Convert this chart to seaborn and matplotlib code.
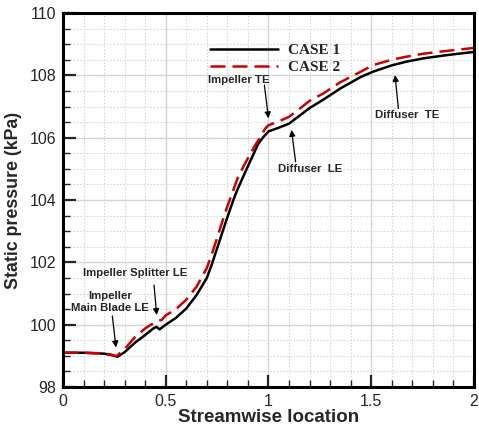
import matplotlib
matplotlib.use("Agg")
import matplotlib.pyplot as plt
from matplotlib.ticker import MultipleLocator, FixedLocator
import pandas as pd
import seaborn as sns

# Static pressure along the streamwise coordinate
x_case1 = [0.0, 0.10, 0.20, 0.24, 0.265, 0.30, 0.35, 0.40, 0.44, 0.455, 0.47, 0.50,
           0.55, 0.60, 0.65, 0.70, 0.725, 0.75, 0.775, 0.80, 0.829, 0.85, 0.894, 0.929,
           0.95, 0.975, 1.0, 1.05, 1.10, 1.15, 1.20, 1.267, 1.35, 1.45, 1.51, 1.60,
           1.672, 1.75, 1.835, 1.92, 2.0]
p_case1 = [99.10, 99.10, 99.07, 99.02, 98.97, 99.12, 99.42, 99.67, 99.88, 99.93, 99.85, 100.00,
           100.22, 100.52, 100.95, 101.50, 101.95, 102.45, 102.95, 103.45, 104.00, 104.35, 105.00, 105.50,
           105.80, 106.02, 106.20, 106.32, 106.45, 106.70, 106.95, 107.22, 107.58, 107.95, 108.12, 108.32,
           108.44, 108.54, 108.62, 108.69, 108.75]

x_case2 = [0.0, 0.10, 0.20, 0.24, 0.26, 0.30, 0.35, 0.40, 0.44, 0.46, 0.48, 0.50,
           0.55, 0.60, 0.65, 0.70, 0.725, 0.75, 0.775, 0.80, 0.85, 0.88, 0.93, 0.96,
           0.985, 1.0, 1.05, 1.10, 1.15, 1.20, 1.267, 1.35, 1.45, 1.51, 1.60, 1.672,
           1.75, 1.835, 1.92, 2.0]
p_case2 = [99.10, 99.10, 99.08, 99.03, 98.99, 99.22, 99.60, 99.88, 100.05, 100.12, 100.15, 100.30,
           100.50, 100.80, 101.22, 101.82, 102.28, 102.78, 103.30, 103.80, 104.70, 105.10, 105.70, 106.02,
           106.30, 106.40, 106.52, 106.67, 106.92, 107.18, 107.42, 107.78, 108.12, 108.33, 108.50, 108.60,
           108.69, 108.76, 108.82, 108.88]

case_names = ["CASE 1", "CASE 2"]
x_ticks = [0, 0.5, 1, 1.5, 2]
x_tick_labels = ["0", "0.5", "1", "1.5", "2"]
y_ticks = [98, 100, 102, 104, 106, 108, 110]

# (label, text position, arrow tail, arrow tip)
annotations = [
    ("Impeller Splitter LE", (0.35, 101.67), (0.443, 101.27), (0.456, 100.31)),
    ("Impeller TE", (0.857, 107.85), (0.98, 107.69), (1.0, 106.62)),
    ("Diffuser  LE", (1.202, 105.0), (1.132, 105.23), (1.112, 106.25)),
    ("Diffuser  TE", (1.677, 106.73), (1.632, 106.94), (1.616, 108.01)),
]

df = pd.concat([
    pd.DataFrame({"x": x_case1, "p": p_case1, "case": case_names[0]}),
    pd.DataFrame({"x": x_case2, "p": p_case2, "case": case_names[1]}),
], ignore_index=True)

sns.set_style("white")
plt.rcParams["font.family"] = ["Liberation Sans", "DejaVu Sans"]

fig = plt.figure(figsize=(4.79, 4.26), dpi=100)
ax = fig.add_axes([0.1315, 0.0915, 0.858, 0.878])

sns.lineplot(data=df, x="x", y="p", hue="case", style="case",
             palette={"CASE 1": "black", "CASE 2": "#cc0000"},
             dashes={"CASE 1": "", "CASE 2": (6, 2.8)},
             linewidth=1.8, ax=ax, sort=False, legend=True)

ax.set_xlim(0, 2)
ax.set_ylim(98, 110)
ax.xaxis.set_major_locator(FixedLocator(x_ticks))
ax.set_xticklabels(x_tick_labels)
ax.xaxis.set_minor_locator(MultipleLocator(0.1))
ax.yaxis.set_major_locator(FixedLocator(y_ticks))
ax.yaxis.set_minor_locator(MultipleLocator(0.5))

ax.grid(which="major", color="#d4d4d4", linewidth=1.0, linestyle="-")
ax.grid(which="minor", color="#d8d8d8", linewidth=0.8, linestyle=(0, (1.5, 1.5)))
ax.set_axisbelow(True)

ax.tick_params(axis="both", which="major", direction="in", length=9, width=1.6,
               labelsize=11.5, top=False, right=False, bottom=True, left=True, pad=5)
ax.tick_params(axis="both", which="minor", direction="in", length=5, width=1.0,
               top=False, right=False, bottom=True, left=True)
for s in ax.spines.values():
    s.set_linewidth(2.2)
    s.set_color("black")

ax.set_xlabel("Streamwise location", fontsize=13.5, fontweight="bold", labelpad=0)
ax.set_ylabel("Static pressure (kPa)", fontsize=12.8, fontweight="bold", labelpad=5)

leg = ax.legend(loc="upper left", bbox_to_anchor=(0.325, 0.955), frameon=False,
                handlelength=4.45, handletextpad=0.65, labelspacing=0.2,
                prop={"family": "Liberation Serif", "weight": "bold", "size": 11})

arrow_style = dict(arrowstyle="-|>", color="black", lw=0.9, mutation_scale=9,
                   shrinkA=0, shrinkB=0)
for label, txt_pos, tail, tip in annotations:
    ax.text(txt_pos[0], txt_pos[1], label, ha="center", va="center",
            fontsize=8.2, fontweight="bold")
    ax.annotate("", xy=tip, xytext=tail, arrowprops=arrow_style)

# Two-line label for the main blade leading edge
ax.text(0.229, 100.93, "Impeller", ha="center", va="center", fontsize=8.2, fontweight="bold")
ax.text(0.229, 100.54, "Main Blade LE", ha="center", va="center", fontsize=8.2, fontweight="bold")
ax.annotate("", xy=(0.258, 99.27), xytext=(0.24, 100.28), arrowprops=arrow_style)

fig.savefig("out.png", dpi=100)
